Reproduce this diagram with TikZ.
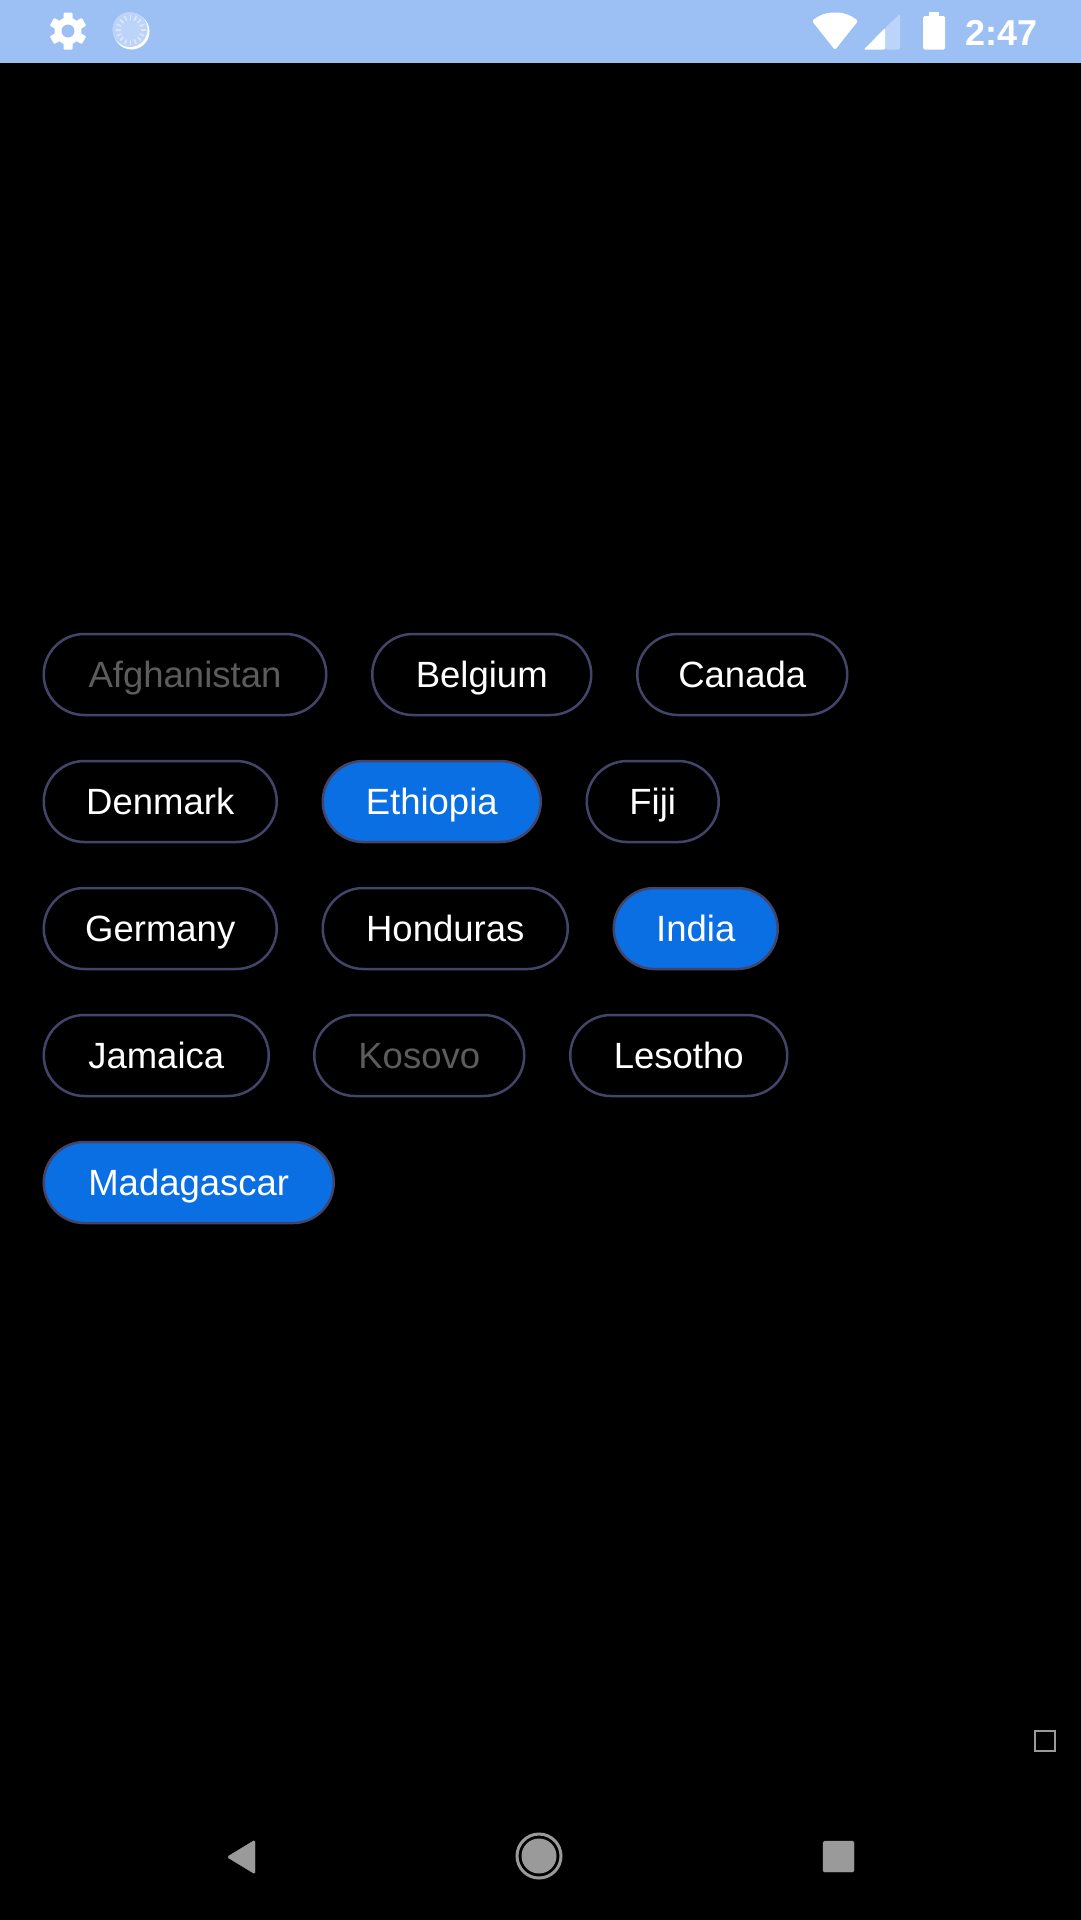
\documentclass[tikz,border=0pt]{standalone}
\usepackage{fontspec}
\setmainfont{Liberation Sans}
\usetikzlibrary{shapes,arrows,positioning}
\definecolor{barblue}{HTML}{9CC0F4}
\definecolor{barpale}{HTML}{BDD4FA}
\definecolor{chipblue}{HTML}{0A6FE3}
\definecolor{chipedge}{HTML}{44446A}
\definecolor{dimtext}{HTML}{5C5C5C}
\definecolor{navgrey}{HTML}{9A9A9A}
\tikzstyle{chip} = [rounded rectangle, draw=chipedge, line width=2.5pt, minimum height=81pt,
    inner sep=0pt, text=white, text height=30pt, text depth=5pt, font=\fontsize{36.5}{40}\selectfont]
\tikzstyle{picked} = [chip, fill=chipblue]
\tikzstyle{dim} = [chip, text=dimtext]
\tikzstyle{navicon} = [fill=navgrey, draw=navgrey, line join=round]
\begin{document}
\begin{tikzpicture}[x=1pt, y=-1pt]
    \useasboundingbox (0,0) rectangle (1080,1920);
    \fill [black] (-5,-5) rectangle (1085,1925);
    \fill [barblue] (-5,-5) rectangle (1085,63);

    % Status bar, left
    \fill [white] (68,31) circle (13.5);
    \foreach \a in {0,60,...,300}
        \fill [white, rotate around={\a:(68,31)}, rounded corners=1pt] (63.5,12.5) rectangle (72.5,20);
    \fill [barblue] (68,31) circle (6.5);
    \fill [white] (131.5,31.5) circle (18);
    \fill [barpale] (130,29.5) circle (17.5);
    \foreach \a in {0,22.5,...,337.5}
        \draw [white, opacity=.45, line width=1.5pt, rotate around={\a:(130.5,30)}] (130.5,15) -- (130.5,20);

    % Status bar, right
    \fill [white, rounded corners=2pt] (835,50) -- (812,21) .. controls (819,15) and (827,12.5) .. (835,12.5)
        .. controls (843,12.5) and (851,15) .. (858,21) -- cycle;
    \fill [barpale, rounded corners=1.5pt] (885,49.5) -- (885,28) -- (900,14) -- (900,49.5) -- cycle;
    \fill [white, rounded corners=1pt] (885,49.5) -- (864,49.5) -- (885,28) -- cycle;
    \fill [white, rounded corners=1.5pt] (923,16) rectangle (945,49.5);
    \fill [white] (929,12) rectangle (939,17);
    \node [anchor=base east, inner sep=0pt, text=white, font=\fontsize{36}{40}\selectfont\bfseries] (clock) at (1038,45) {2:47};

    % Place nodes
    \node [dim, minimum width=282.5pt, anchor=west] (afghanistan) at (42.5,674.5) {Afghanistan};
    \node [chip, minimum width=219pt, right=43.5pt of afghanistan] (belgium) {Belgium};
    \node [chip, minimum width=210pt, right=43.5pt of belgium] (canada) {Canada};

    \node [chip, minimum width=233pt, below=43.5pt of afghanistan.south west, anchor=north west] (denmark) {Denmark};
    \node [picked, minimum width=218pt, right=43.5pt of denmark] (ethiopia) {Ethiopia};
    \node [chip, minimum width=132pt, right=43.5pt of ethiopia] (fiji) {Fiji};

    \node [chip, minimum width=233pt, below=43.5pt of denmark.south west, anchor=north west] (germany) {Germany};
    \node [chip, minimum width=245pt, right=43.5pt of germany] (honduras) {Honduras};
    \node [picked, minimum width=164pt, right=43.5pt of honduras] (india) {India};

    \node [chip, minimum width=225pt, below=43.5pt of germany.south west, anchor=north west] (jamaica) {Jamaica};
    \node [dim, minimum width=210pt, right=43pt of jamaica] (kosovo) {Kosovo};
    \node [chip, minimum width=217pt, right=43.5pt of kosovo] (lesotho) {Lesotho};

    \node [picked, minimum width=290pt, below=43.5pt of jamaica.south west, anchor=north west] (madagascar) {Madagascar};

    % Navigation bar
    \draw [navgrey, line width=1.5pt] (1035,1731) rectangle (1055,1751);
    \path [navicon, rounded corners=1.5pt] (255,1840) -- (255,1874) -- (227,1857) -- cycle;
    \draw [navgrey, line width=3pt] (539,1856) circle (22);
    \fill [navgrey] (539,1856) circle (17.5);
    \path [navicon, rounded corners=1.5pt] (823,1841) rectangle (854,1872);
\end{tikzpicture}
\end{document}
